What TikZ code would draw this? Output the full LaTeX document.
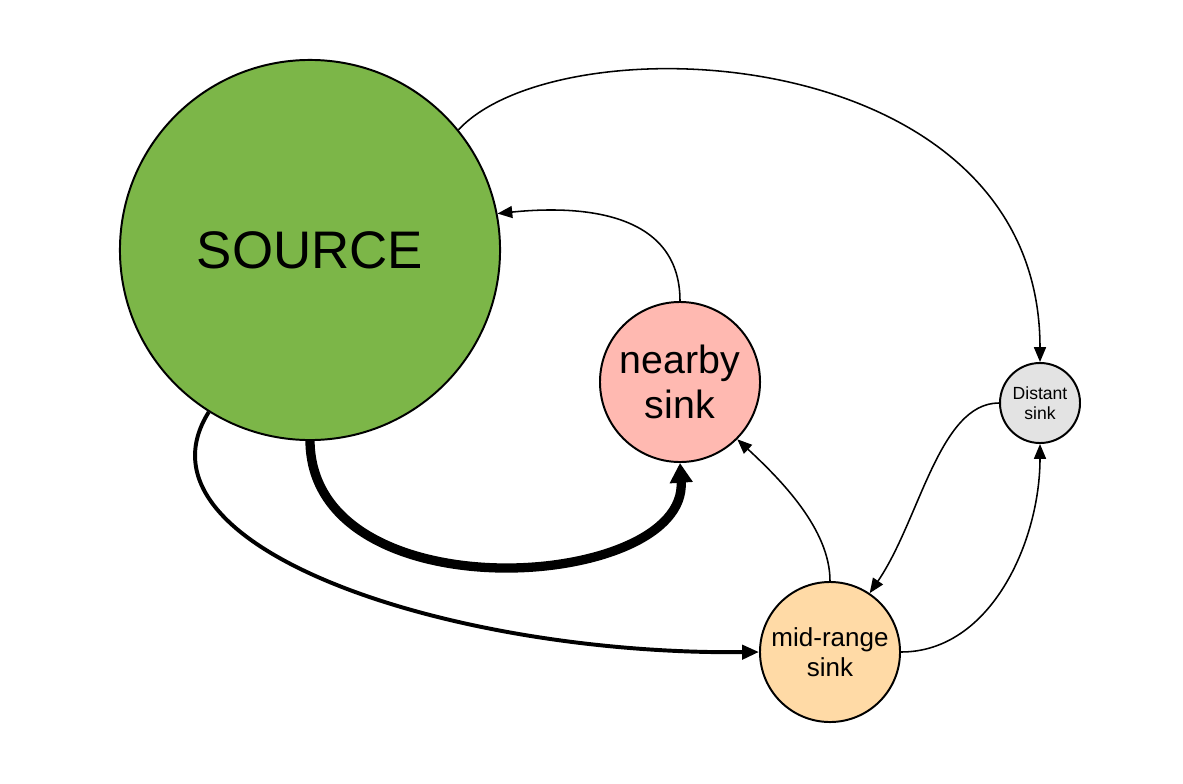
\documentclass[tikz,border=0pt]{standalone}
\usepackage{fontspec}
\setmainfont{Liberation Sans}
\usetikzlibrary{arrows.meta}

\definecolor{vertsource}{RGB}{124,182,72}
\definecolor{rosepuits}{RGB}{255,185,177}
\definecolor{orangepuits}{RGB}{255,218,166}
\definecolor{grispuits}{RGB}{227,227,227}

\begin{document}
\begin{tikzpicture}[x=0.025cm, y=-0.025cm,
	puits/.style={circle, draw, line width=1.4pt, inner sep=0pt, align=center},
	fin/.style={line width=1.1pt, -{Triangle[length=10.5pt,width=8.5pt]}},
	moyenne/.style={line width=2.8pt, -{Triangle[length=12pt,width=10pt]}},
	epais/.style={line width=6.6pt, -{Triangle[length=14pt,width=15.6pt]}}]

		\useasboundingbox (0,0) rectangle (1183,783);

		\node[puits, fill=vertsource, minimum size=9.5cm, font=\fontsize{37.6}{45}\selectfont] (src) at (310,250) {SOURCE};
		\node[puits, fill=rosepuits, minimum size=4cm, font=\fontsize{28}{32}\selectfont] (proche) at (680,382) {nearby\\sink};
		\node[puits, fill=orangepuits, minimum size=3.5cm, font=\fontsize{18.5}{21}\selectfont] (milieu) at (830,652) {mid-range\\sink};
		\node[puits, fill=grispuits, minimum size=2cm, font=\fontsize{12.5}{14}\selectfont] (lointain) at (1040,403) {Distant\\sink};

		% flux depuis la source
		\draw[fin] (src.39) .. controls +(102,-110) and +(0,-323) .. (lointain.north);
		\draw[epais] (src.south) .. controls +(2,175) and +(8,128) .. (proche.south);
		\draw[moyenne] (src.238) .. controls +(-85,135) and +(-310,3) .. (milieu.west);

		% retours
		\draw[fin] (proche.north) .. controls +(0,-92) and +(78,-8) .. (src.11);
		\draw[fin] (milieu.north) .. controls +(0,-52) and +(43,40) .. (proche.-45);
		\draw[fin] (lointain.west) .. controls +(-60,0) and +(50,-73) .. (milieu.56);
		\draw[fin] (milieu.east) .. controls +(90,0) and +(0,97) .. (lointain.south);
	\end{tikzpicture}
\end{document}
